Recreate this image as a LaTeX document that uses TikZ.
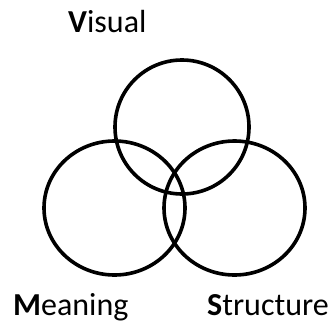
\documentclass[tikz,border=0pt]{standalone}
\usepackage{fontspec}
\setmainfont{Carlito}
\usetikzlibrary{shapes.geometric,positioning}
\tikzset{
  %% ring of the diagram
  ring/.style={ellipse,draw=black,line width=3.6pt,
    minimum width=#1,minimum height=134pt,inner sep=0pt},
  %% label text
  lbl/.style={font=\fontsize{32}{36}\selectfont,inner sep=0pt,anchor=base west},
}
\begin{document}
\begin{tikzpicture}[x=1pt,y=1pt]
  \useasboundingbox (0,0) rectangle (336,330);

  %% rings
  \node[ring=134pt] (vis)    at (182,203)   {};
  \node[ring=141pt] (mean)   at (114.5,122) {};
  \node[ring=141pt] (struct) at (234.5,122) {};

  %% labels
  \node[lbl] (lvis)    at (68,297) {\textbf{V}isual};
  \node[lbl] (lmean)   at (13,15)  {\textbf{M}eaning};
  \node[lbl] (lstruct) at (207,15) {\textbf{S}tructure};

\end{tikzpicture}
\end{document}
